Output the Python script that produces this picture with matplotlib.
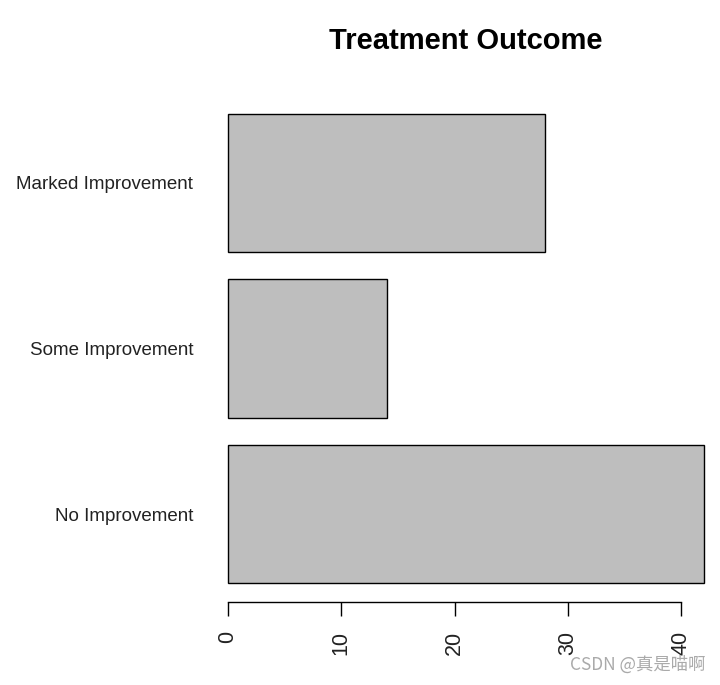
import matplotlib
matplotlib.use("Agg")
import matplotlib.pyplot as plt

categories = ["No Improvement", "Some Improvement", "Marked Improvement"]
counts = [42, 14, 28]
xticks = [0, 10, 20, 30, 40]
title = "Treatment Outcome"

plt.rcParams['font.family'] = ['Liberation Sans', 'DejaVu Sans']

fig = plt.figure(figsize=(7.2, 6.85), dpi=100)
W, H = 720, 685
left, right, bottom, top = 209, 720, 602, 95
ax = fig.add_axes([left / W, 1 - bottom / H, (right - left) / W, (bottom - top) / H])

ypos = [0.7 + 1.2 * i for i in range(len(categories))]
ax.barh(ypos, counts, height=1.0, color="#bebebe", edgecolor="black", linewidth=1.0)

ax.set_xlim(-1.68, 43.44)
ax.set_ylim(0.064, 3.736)
for s in ["top", "right", "left"]:
    ax.spines[s].set_visible(False)
ax.spines["bottom"].set_bounds(0, 40)
ax.spines["bottom"].set_linewidth(1.0)
ax.set_xticks(xticks)
ax.set_xticklabels([str(t) for t in xticks], rotation=90, fontsize=15.5, color="#222222")
ax.tick_params(axis="x", length=10, width=1.0, pad=11)
ax.set_yticks(ypos)
ax.set_yticklabels(categories, fontsize=13.5, color="#222222")
ax.tick_params(axis="y", length=0, pad=11.5)

fig.text((209 + 722) / 2 / W, 1 - 41 / H, title, ha="center", va="center",
         fontsize=21, fontweight="bold")

fig.text(705 / W, 1 - 665 / H, "CSDN @真是喵啊", ha="right", va="center",
         fontsize=12.5, color="#aaaaaa", family=["Noto Sans CJK SC", "DejaVu Sans"])

fig.savefig("out.png", dpi=100)
